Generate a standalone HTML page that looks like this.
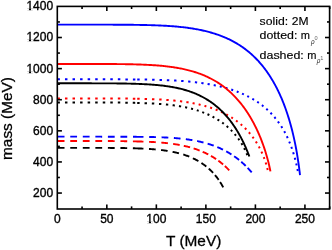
<!DOCTYPE html>
<html><head><meta charset="utf-8"><style>
html,body{margin:0;padding:0;background:#fff;width:332px;height:250px;overflow:hidden}
svg{display:block;filter:blur(0.35px)}
text{font-family:"Liberation Sans",sans-serif}
</style></head><body>
<svg width="332" height="250" viewBox="0 0 332 250">
<rect width="332" height="250" fill="#fff"/>
<g><path d="M57.70,147.87 L58.38,147.87 L59.06,147.87 L59.74,147.87 L60.42,147.87 L61.10,147.87 L61.78,147.87 L62.46,147.87 L63.14,147.87 L63.82,147.87 L64.50,147.87M70.25,147.87 L70.93,147.87 L71.61,147.87 L72.29,147.87 L72.97,147.87 L73.65,147.87 L74.33,147.87 L75.01,147.87 L75.69,147.87 L76.37,147.87 L77.05,147.87M82.80,147.87 L83.48,147.87 L84.16,147.88 L84.84,147.88 L85.52,147.88 L86.20,147.88 L86.88,147.88 L87.56,147.88 L88.24,147.88 L88.92,147.88 L89.60,147.88M95.35,147.88 L96.03,147.88 L96.71,147.88 L97.39,147.88 L98.07,147.89 L98.75,147.89 L99.43,147.89 L100.11,147.89 L100.79,147.89 L101.47,147.89 L102.15,147.89M107.89,147.91 L108.57,147.92 L109.25,147.92 L109.93,147.92 L110.61,147.93 L111.29,147.93 L111.97,147.94 L112.65,147.94 L113.33,147.95 L114.00,147.95 L114.68,147.96M120.41,148.01 L121.09,148.02 L121.77,148.03 L122.44,148.04 L123.12,148.05 L123.80,148.06 L124.48,148.07 L125.16,148.09 L125.84,148.10 L126.51,148.11 L127.19,148.12M132.87,148.26 L133.53,148.28 L134.20,148.30 L134.86,148.32 L135.52,148.34 L136.18,148.37 L136.84,148.39 L137.50,148.41 L138.16,148.44 L138.82,148.47 L139.48,148.49 L140.14,148.52 L140.80,148.55 L141.46,148.57 L142.12,148.60 L142.79,148.63 L143.45,148.65M148.99,148.95 L149.67,148.99 L150.34,149.04 L151.01,149.08 L151.68,149.13 L152.34,149.18 L153.01,149.23 L153.68,149.29 L154.35,149.34 L155.02,149.40 L155.69,149.46M161.06,150.01 L161.72,150.09 L162.38,150.17 L163.04,150.26 L163.70,150.35 L164.36,150.44 L165.02,150.53 L165.67,150.62 L166.33,150.72 L166.99,150.82 L167.64,150.93M172.59,151.82 L173.23,151.95 L173.87,152.08 L174.51,152.22 L175.15,152.36 L175.79,152.50 L176.42,152.65 L177.06,152.80 L177.69,152.96 L178.33,153.12 L178.96,153.28M183.27,154.52 L183.88,154.72 L184.49,154.91 L185.09,155.12 L185.70,155.32 L186.30,155.54 L186.90,155.75 L187.50,155.97 L188.10,156.20 L188.70,156.43 L189.29,156.66M192.90,158.24 L193.52,158.54 L194.14,158.84 L194.76,159.15 L195.37,159.46 L195.99,159.79 L196.59,160.11 L197.20,160.44 L197.80,160.78 L198.40,161.13M201.44,163.01 L202.00,163.39 L202.56,163.77 L203.12,164.16 L203.67,164.55 L204.22,164.95 L204.76,165.36 L205.30,165.77 L205.83,166.18 L206.36,166.61M208.74,168.62 L209.24,169.07 L209.74,169.53 L210.24,170.00 L210.73,170.47 L211.21,170.94 L211.69,171.42 L212.16,171.91 L212.63,172.40 L213.09,172.89M214.97,175.02 L215.41,175.54 L215.84,176.06 L216.26,176.59 L216.68,177.13 L217.09,177.67 L217.50,178.21 L217.90,178.75 L218.29,179.31 L218.68,179.86M220.14,182.07 L220.50,182.64 L220.86,183.22 L221.21,183.80 L221.55,184.38 L221.88,184.97 L222.21,185.56 L222.54,186.16 L222.86,186.76 L223.17,187.36" fill="none" stroke="#000000" stroke-width="1.9"/><path d="M57.70,141.02 L58.38,141.02 L59.06,141.02 L59.74,141.02 L60.42,141.02 L61.10,141.02 L61.78,141.02 L62.46,141.02 L63.14,141.02 L63.82,141.02 L64.50,141.02M70.25,141.02 L70.93,141.02 L71.61,141.02 L72.29,141.02 L72.97,141.02 L73.65,141.02 L74.33,141.02 L75.01,141.02 L75.69,141.02 L76.37,141.02 L77.05,141.02M82.80,141.02 L83.48,141.02 L84.16,141.02 L84.84,141.02 L85.52,141.02 L86.20,141.02 L86.88,141.02 L87.56,141.02 L88.24,141.02 L88.92,141.02 L89.60,141.02M95.35,141.03 L96.03,141.03 L96.71,141.03 L97.39,141.03 L98.07,141.03 L98.75,141.03 L99.43,141.03 L100.11,141.03 L100.79,141.03 L101.47,141.03 L102.15,141.04M107.89,141.05 L108.57,141.06 L109.25,141.06 L109.93,141.06 L110.61,141.06 L111.29,141.07 L111.97,141.07 L112.65,141.07 L113.33,141.08 L114.01,141.08 L114.69,141.09M120.42,141.13 L121.10,141.14 L121.77,141.15 L122.45,141.16 L123.13,141.16 L123.81,141.17 L124.49,141.18 L125.17,141.19 L125.85,141.20 L126.52,141.21 L127.20,141.22M132.90,141.33 L133.56,141.34 L134.22,141.36 L134.88,141.37 L135.54,141.39 L136.20,141.41 L136.86,141.43 L137.52,141.44 L138.18,141.46 L138.84,141.48 L139.50,141.50 L140.16,141.53 L140.82,141.54 L141.48,141.56 L142.14,141.58 L142.80,141.60 L143.46,141.62M149.06,141.83 L149.73,141.86 L150.40,141.89 L151.08,141.93 L151.75,141.96 L152.42,142.00 L153.10,142.03 L153.77,142.07 L154.44,142.11 L155.12,142.15 L155.79,142.20M161.28,142.60 L161.95,142.66 L162.62,142.72 L163.28,142.78 L163.95,142.84 L164.61,142.91 L165.28,142.97 L165.94,143.04 L166.61,143.11 L167.27,143.18 L167.94,143.26M173.15,143.93 L173.81,144.02 L174.46,144.12 L175.11,144.22 L175.77,144.32 L176.42,144.42 L177.07,144.53 L177.72,144.64 L178.37,144.75 L179.02,144.87 L179.68,144.99M183.77,145.81 L184.41,145.95 L185.04,146.09 L185.68,146.24 L186.31,146.39 L186.94,146.54 L187.58,146.69 L188.21,146.85 L188.84,147.02 L189.47,147.18 L190.09,147.35M193.63,148.41 L194.24,148.61 L194.84,148.81 L195.45,149.01 L196.05,149.22 L196.65,149.43 L197.25,149.64 L197.85,149.86 L198.45,150.08 L199.04,150.31 L199.64,150.54M202.67,151.79 L203.30,152.06 L203.93,152.34 L204.56,152.63 L205.19,152.92 L205.81,153.22 L206.43,153.52 L207.05,153.83 L207.67,154.14 L208.28,154.46M210.93,155.90 L211.51,156.24 L212.10,156.58 L212.68,156.93 L213.26,157.28 L213.84,157.64 L214.41,158.00 L214.98,158.37 L215.54,158.74 L216.11,159.12M218.31,160.66 L218.85,161.06 L219.40,161.47 L219.94,161.88 L220.47,162.30 L221.00,162.72 L221.53,163.14 L222.06,163.57 L222.58,164.00 L223.09,164.44M224.88,166.02 L225.38,166.48 L225.87,166.94 L226.36,167.41 L226.85,167.88 L227.33,168.35 L227.81,168.83 L228.29,169.32 L228.76,169.80 L229.22,170.30" fill="none" stroke="#ff0000" stroke-width="1.9"/><path d="M57.70,136.67 L58.38,136.67 L59.06,136.67 L59.74,136.67 L60.42,136.67 L61.10,136.67 L61.78,136.67 L62.46,136.67 L63.14,136.67 L63.82,136.67 L64.50,136.67M70.25,136.67 L70.93,136.67 L71.61,136.67 L72.29,136.67 L72.97,136.67 L73.65,136.67 L74.33,136.67 L75.01,136.67 L75.69,136.67 L76.37,136.67 L77.05,136.67M82.80,136.67 L83.48,136.67 L84.16,136.67 L84.84,136.67 L85.52,136.67 L86.20,136.67 L86.88,136.67 L87.56,136.67 L88.24,136.67 L88.92,136.67 L89.60,136.67M95.35,136.67 L96.03,136.67 L96.71,136.67 L97.39,136.67 L98.07,136.67 L98.75,136.67 L99.43,136.67 L100.11,136.67 L100.79,136.67 L101.47,136.68 L102.15,136.68M107.90,136.68 L108.58,136.68 L109.26,136.68 L109.94,136.68 L110.62,136.68 L111.30,136.69 L111.98,136.69 L112.66,136.69 L113.34,136.69 L114.02,136.69 L114.70,136.69M120.44,136.71 L121.12,136.71 L121.80,136.71 L122.48,136.72 L123.16,136.72 L123.84,136.72 L124.52,136.73 L125.20,136.73 L125.88,136.73 L126.56,136.74 L127.23,136.74M132.97,136.78 L133.62,136.79 L134.28,136.80 L134.94,136.80 L135.59,136.81 L136.25,136.82 L136.91,136.83 L137.57,136.83 L138.22,136.84 L138.88,136.85 L139.54,136.86 L140.20,136.87 L140.85,136.87 L141.51,136.88 L142.17,136.88 L142.83,136.89 L143.48,136.90M149.17,136.98 L149.85,136.99 L150.53,137.00 L151.20,137.01 L151.88,137.03 L152.56,137.04 L153.24,137.06 L153.91,137.07 L154.59,137.09 L155.27,137.11 L155.95,137.13M161.60,137.32 L162.27,137.34 L162.95,137.37 L163.62,137.40 L164.30,137.43 L164.97,137.46 L165.64,137.50 L166.32,137.53 L166.99,137.56 L167.67,137.60 L168.34,137.64M173.87,138.00 L174.53,138.05 L175.20,138.10 L175.87,138.16 L176.54,138.21 L177.21,138.27 L177.87,138.33 L178.54,138.39 L179.21,138.45 L179.87,138.52 L180.54,138.58M185.83,139.18 L186.48,139.27 L187.14,139.36 L187.80,139.45 L188.46,139.54 L189.11,139.63 L189.77,139.73 L190.42,139.83 L191.08,139.94 L191.73,140.05 L192.39,140.16M197.13,141.05 L197.77,141.19 L198.41,141.32 L199.04,141.46 L199.68,141.60 L200.32,141.75 L200.95,141.90 L201.59,142.05 L202.22,142.21 L202.85,142.36 L203.49,142.53M207.63,143.68 L208.25,143.87 L208.86,144.05 L209.47,144.25 L210.08,144.44 L210.69,144.64 L211.30,144.85 L211.91,145.05 L212.51,145.26 L213.11,145.48 L213.72,145.70M217.30,147.09 L217.94,147.36 L218.58,147.63 L219.22,147.91 L219.86,148.19 L220.49,148.48 L221.13,148.77 L221.76,149.06 L222.38,149.37 L223.01,149.67M226.18,151.32 L226.78,151.65 L227.37,151.98 L227.96,152.32 L228.55,152.66 L229.13,153.01 L229.72,153.36 L230.30,153.72 L230.87,154.08 L231.45,154.44M234.17,156.27 L234.73,156.66 L235.28,157.05 L235.83,157.45 L236.37,157.86 L236.91,158.26 L237.45,158.67 L237.99,159.09 L238.52,159.51 L239.05,159.94M241.26,161.78 L241.77,162.23 L242.27,162.68 L242.78,163.13 L243.28,163.59 L243.77,164.05 L244.27,164.52 L244.76,164.98 L245.24,165.46 L245.73,165.93M247.64,167.89 L248.11,168.38 L248.57,168.88 L249.02,169.38 L249.48,169.89 L249.93,170.39 L250.37,170.90 L250.81,171.42 L251.25,171.94 L251.69,172.46" fill="none" stroke="#0000ff" stroke-width="1.9"/><path d="M57.40,102.49 L58.02,102.49 L58.65,102.49 L59.27,102.49 L59.90,102.49M64.96,102.49 L65.58,102.49 L66.21,102.49 L66.83,102.49 L67.46,102.49M72.52,102.49 L73.14,102.49 L73.77,102.49 L74.39,102.49 L75.02,102.49M80.08,102.49 L80.70,102.49 L81.33,102.49 L81.95,102.49 L82.58,102.49M87.64,102.49 L88.26,102.49 L88.89,102.49 L89.51,102.49 L90.14,102.49M95.19,102.50 L95.82,102.50 L96.44,102.50 L97.07,102.50 L97.69,102.50M102.75,102.51 L103.37,102.51 L103.99,102.52 L104.62,102.52 L105.24,102.52M110.28,102.54 L110.91,102.54 L111.53,102.55 L112.15,102.55 L112.78,102.55M117.81,102.59 L118.43,102.60 L119.05,102.60 L119.67,102.61 L120.29,102.62M125.30,102.68 L125.92,102.69 L126.53,102.70 L127.15,102.71 L127.77,102.72M132.75,102.82 L133.36,102.83 L133.98,102.84 L134.59,102.86 L135.21,102.88M137.20,102.93 L137.81,102.95 L138.42,102.97 L139.03,102.98 L139.64,103.00M144.54,103.15 L145.15,103.17 L145.76,103.19 L146.37,103.21 L146.98,103.23M151.85,103.45 L152.45,103.48 L153.05,103.51 L153.65,103.54 L154.25,103.58M158.99,103.88 L159.58,103.92 L160.17,103.96 L160.76,104.01 L161.35,104.05M165.93,104.45 L166.50,104.51 L167.08,104.57 L167.65,104.63 L168.23,104.69M172.60,105.19 L173.16,105.27 L173.72,105.34 L174.28,105.41 L174.84,105.49M178.96,106.11 L179.50,106.20 L180.05,106.29 L180.59,106.38 L181.13,106.47M185.10,107.23 L185.62,107.33 L186.14,107.44 L186.66,107.55 L187.17,107.66M191.07,108.58 L191.72,108.75 L192.37,108.93 L193.02,109.11M196.78,110.21 L197.41,110.41 L198.05,110.62 L198.68,110.82M202.25,112.09 L202.87,112.32 L203.50,112.56 L204.12,112.81M207.49,114.22 L208.10,114.50 L208.70,114.77 L209.31,115.05M212.58,116.68 L213.17,116.99 L213.76,117.31 L214.34,117.63M217.50,119.48 L218.06,119.83 L218.63,120.19 L219.19,120.55M222.20,122.62 L222.74,123.02 L223.27,123.41 L223.80,123.82M226.65,126.11 L227.16,126.54 L227.66,126.98 L228.16,127.42M230.83,129.93 L231.30,130.40 L231.76,130.88 L232.23,131.36M234.69,134.06 L235.12,134.57 L235.55,135.08 L235.97,135.60M238.21,138.49 L238.60,139.03 L238.99,139.57 L239.37,140.12M241.37,143.18 L241.72,143.75 L242.06,144.32 L242.40,144.89M244.15,148.10 L244.45,148.70 L244.75,149.30 L245.04,149.90M246.52,153.24 L246.78,153.85 L247.02,154.48 L247.26,155.10" fill="none" stroke="#000000" stroke-width="2.0"/><path d="M57.40,98.41 L58.02,98.41 L58.65,98.41 L59.27,98.41 L59.90,98.41M64.96,98.41 L65.58,98.41 L66.21,98.41 L66.83,98.41 L67.46,98.41M72.52,98.41 L73.14,98.41 L73.77,98.41 L74.39,98.41 L75.02,98.41M80.08,98.41 L80.70,98.41 L81.33,98.41 L81.95,98.41 L82.58,98.41M87.64,98.42 L88.26,98.42 L88.89,98.42 L89.51,98.42 L90.14,98.42M95.20,98.42 L95.82,98.42 L96.45,98.42 L97.07,98.42 L97.69,98.42M102.75,98.43 L103.37,98.43 L104.00,98.43 L104.62,98.43 L105.25,98.44M110.29,98.45 L110.92,98.45 L111.54,98.46 L112.16,98.46 L112.79,98.46M117.83,98.49 L118.45,98.49 L119.07,98.50 L119.69,98.50 L120.31,98.51M125.34,98.55 L125.96,98.56 L126.58,98.56 L127.20,98.57 L127.82,98.58M132.82,98.65 L133.44,98.66 L134.05,98.67 L134.67,98.68 L135.29,98.69M137.20,98.73 L137.82,98.74 L138.43,98.76 L139.05,98.77 L139.66,98.78M144.61,98.90 L145.22,98.91 L145.83,98.93 L146.44,98.95 L147.05,98.97M151.96,99.14 L152.57,99.16 L153.18,99.18 L153.78,99.21 L154.39,99.23M159.22,99.47 L159.82,99.50 L160.42,99.53 L161.02,99.57 L161.62,99.60M166.33,99.91 L166.92,99.95 L167.51,100.00 L168.10,100.04 L168.69,100.09M173.26,100.48 L173.83,100.54 L174.41,100.59 L174.99,100.65 L175.57,100.71M179.95,101.20 L180.52,101.27 L181.08,101.34 L181.64,101.41 L182.21,101.48M186.38,102.07 L186.93,102.15 L187.47,102.24 L188.02,102.32 L188.57,102.41M192.56,103.12 L193.09,103.22 L193.61,103.32 L194.14,103.42 L194.66,103.53M198.60,104.38 L199.27,104.53 L199.94,104.69 L200.61,104.85M204.46,105.86 L205.11,106.03 L205.75,106.22 L206.39,106.40M210.14,107.57 L210.77,107.78 L211.40,107.99 L212.03,108.21M215.69,109.55 L216.31,109.80 L216.93,110.05 L217.55,110.30M221.03,111.81 L221.64,112.09 L222.24,112.38 L222.84,112.66M226.23,114.39 L226.82,114.71 L227.40,115.03 L227.98,115.35M231.25,117.30 L231.81,117.66 L232.37,118.02 L232.93,118.38M236.05,120.55 L236.59,120.95 L237.13,121.35 L237.66,121.75M240.61,124.14 L241.12,124.58 L241.62,125.01 L242.12,125.46M244.89,128.06 L245.37,128.53 L245.84,129.00 L246.30,129.48M248.87,132.28 L249.31,132.78 L249.74,133.29 L250.17,133.80M252.53,136.78 L252.93,137.32 L253.32,137.86 L253.71,138.40M255.85,141.54 L256.21,142.10 L256.57,142.67 L256.92,143.23M258.83,146.52 L259.15,147.11 L259.46,147.69 L259.78,148.28M261.46,151.69 L261.74,152.30 L262.02,152.90 L262.29,153.51M263.74,157.03 L263.98,157.65 L264.22,158.27 L264.45,158.90M265.67,162.50 L265.87,163.13 L266.07,163.77 L266.26,164.41M267.25,168.08 L267.41,168.73 L267.56,169.38 L267.71,170.03" fill="none" stroke="#ff0000" stroke-width="2.0"/><path d="M57.40,79.28 L58.02,79.28 L58.65,79.28 L59.27,79.28 L59.90,79.28M64.96,79.28 L65.58,79.28 L66.21,79.28 L66.83,79.28 L67.46,79.28M72.52,79.28 L73.14,79.28 L73.77,79.28 L74.39,79.28 L75.02,79.28M80.08,79.28 L80.70,79.28 L81.33,79.28 L81.95,79.28 L82.58,79.28M87.64,79.28 L88.26,79.28 L88.89,79.28 L89.51,79.28 L90.14,79.28M95.20,79.29 L95.82,79.29 L96.45,79.29 L97.07,79.29 L97.70,79.29M102.75,79.29 L103.38,79.29 L104.00,79.30 L104.62,79.30 L105.25,79.30M110.30,79.31 L110.92,79.31 L111.55,79.31 L112.17,79.31 L112.80,79.32M117.84,79.33 L118.46,79.34 L119.09,79.34 L119.71,79.34 L120.33,79.35M125.37,79.38 L125.99,79.38 L126.61,79.39 L127.23,79.39 L127.86,79.40M132.88,79.44 L133.50,79.45 L134.12,79.46 L134.74,79.46 L135.36,79.47M137.20,79.49 L137.82,79.50 L138.44,79.51 L139.06,79.52 L139.67,79.53M144.66,79.59 L145.28,79.60 L145.90,79.60 L146.52,79.61 L147.14,79.62M152.12,79.71 L152.73,79.73 L153.35,79.74 L153.96,79.75 L154.58,79.77M159.52,79.90 L160.13,79.92 L160.74,79.94 L161.35,79.96 L161.96,79.98M166.85,80.16 L167.46,80.18 L168.06,80.21 L168.67,80.24 L169.27,80.26M174.09,80.50 L174.69,80.53 L175.29,80.57 L175.88,80.60 L176.48,80.64M181.19,80.94 L181.78,80.98 L182.37,81.03 L182.96,81.07 L183.55,81.11M188.13,81.49 L188.71,81.54 L189.29,81.60 L189.87,81.65 L190.45,81.71M194.88,82.19 L195.45,82.25 L196.01,82.32 L196.58,82.39 L197.15,82.46M201.36,83.01 L201.92,83.09 L202.47,83.17 L203.02,83.25 L203.57,83.33M207.59,83.97 L208.13,84.06 L208.67,84.15 L209.21,84.24 L209.75,84.34M213.72,85.09 L214.24,85.19 L214.76,85.30 L215.28,85.41 L215.80,85.51M219.71,86.39 L220.38,86.54 L221.05,86.71 L221.72,86.87M225.57,87.88 L226.21,88.06 L226.85,88.24 L227.49,88.42M231.25,89.57 L231.88,89.78 L232.51,89.99 L233.15,90.20M236.73,91.48 L237.36,91.71 L237.98,91.95 L238.60,92.19M242.02,93.60 L242.63,93.87 L243.24,94.14 L243.85,94.41M247.24,96.03 L247.83,96.33 L248.43,96.63 L249.02,96.94M252.31,98.75 L252.88,99.09 L253.46,99.43 L254.03,99.77M257.20,101.78 L257.75,102.15 L258.30,102.53 L258.85,102.91M261.88,105.13 L262.40,105.54 L262.93,105.95 L263.45,106.37M266.32,108.79 L266.81,109.23 L267.31,109.68 L267.80,110.13M270.49,112.75 L270.95,113.23 L271.41,113.71 L271.87,114.20M274.37,117.00 L274.80,117.51 L275.23,118.02 L275.65,118.54M277.95,121.50 L278.34,122.04 L278.73,122.58 L279.12,123.13M281.22,126.24 L281.57,126.80 L281.93,127.37 L282.28,127.93M284.18,131.17 L284.50,131.76 L284.82,132.34 L285.13,132.93M286.83,136.28 L287.12,136.88 L287.41,137.48 L287.69,138.08M289.21,141.52 L289.46,142.13 L289.72,142.75 L289.97,143.37M291.31,146.88 L291.53,147.50 L291.76,148.13 L291.98,148.76M293.16,152.32 L293.36,152.96 L293.55,153.60 L293.75,154.24M294.78,157.85 L294.95,158.49 L295.12,159.13 L295.29,159.78M296.19,163.42 L296.34,164.07 L296.49,164.72 L296.63,165.37M297.41,169.05 L297.54,169.70 L297.67,170.36 L297.79,171.01" fill="none" stroke="#0000ff" stroke-width="2.0"/><path d="M57.30,83.32 L58.32,83.32 L59.34,83.32 L60.36,83.32 L61.37,83.32 L62.38,83.32 L63.39,83.32 L64.40,83.32 L65.40,83.32 L66.40,83.32 L67.46,83.32 L68.53,83.32 L69.59,83.32 L70.64,83.32 L71.69,83.32 L72.74,83.32 L73.79,83.32 L74.84,83.32 L75.88,83.32 L76.92,83.32 L77.95,83.32 L78.98,83.32 L80.01,83.32 L81.04,83.32 L82.07,83.32 L83.09,83.32 L84.10,83.32 L85.12,83.32 L86.13,83.32 L87.14,83.32 L88.15,83.32 L89.15,83.32 L90.15,83.32 L91.21,83.32 L92.27,83.33 L93.32,83.33 L94.37,83.33 L95.42,83.33 L96.46,83.33 L97.50,83.33 L98.54,83.33 L99.58,83.34 L100.61,83.34 L101.63,83.34 L102.66,83.35 L103.68,83.35 L104.70,83.35 L105.71,83.36 L106.72,83.36 L107.73,83.36 L108.73,83.37 L109.73,83.38 L110.79,83.38 L111.84,83.39 L112.89,83.40 L113.94,83.40 L114.98,83.41 L116.02,83.42 L117.05,83.43 L118.08,83.44 L119.11,83.45 L120.13,83.47 L121.15,83.48 L122.17,83.50 L123.18,83.51 L124.19,83.53 L125.19,83.54 L126.19,83.56 L127.25,83.58 L128.29,83.61 L129.34,83.63 L130.38,83.65 L131.41,83.68 L132.45,83.71 L133.48,83.74 L134.50,83.77 L135.52,83.80 L136.53,83.84 L137.55,83.87 L138.55,83.91 L139.56,83.95 L140.56,83.99 L141.60,84.03 L142.65,84.08 L143.69,84.13 L144.72,84.18 L145.75,84.23 L146.77,84.29 L147.79,84.34 L148.81,84.41 L149.82,84.47 L150.83,84.54 L151.83,84.61 L152.83,84.68 L153.87,84.76 L154.91,84.85 L155.94,84.94 L156.97,85.03 L157.99,85.13 L159.01,85.23 L160.02,85.33 L161.03,85.44 L162.03,85.55 L163.03,85.67 L164.07,85.80 L165.10,85.94 L166.13,86.07 L167.15,86.22 L168.17,86.37 L169.18,86.53 L170.19,86.69 L171.19,86.85 L172.18,87.03 L173.17,87.21 L174.16,87.39 L175.18,87.59 L176.20,87.80 L177.21,88.01 L178.22,88.23 L179.22,88.46 L180.21,88.70 L181.20,88.94 L182.18,89.19 L183.15,89.45 L184.12,89.71 L185.09,89.99 L186.08,90.28 L187.08,90.58 L188.06,90.89 L189.04,91.21 L190.01,91.54 L190.98,91.88 L191.94,92.24 L192.89,92.60 L193.84,92.97 L194.78,93.34 L195.71,93.73 L196.64,94.13 L197.56,94.54 L198.47,94.96 L199.38,95.38 L200.28,95.82 L201.21,96.29 L202.14,96.76 L203.05,97.25 L203.96,97.75 L204.86,98.26 L205.76,98.78 L206.65,99.31 L207.53,99.85 L208.40,100.41 L209.27,100.97 L210.13,101.55 L210.98,102.13 L211.83,102.73 L212.67,103.34 L213.50,103.96 L214.33,104.59 L215.14,105.24 L215.95,105.89 L216.73,106.53 L217.49,107.18 L218.25,107.84 L219.00,108.51 L219.74,109.19 L220.48,109.88 L221.22,110.58 L221.94,111.29 L222.66,112.01 L223.37,112.74 L224.08,113.48 L224.78,114.23 L225.47,114.99 L226.16,115.76 L226.84,116.54 L227.51,117.33 L228.18,118.13 L228.81,118.91 L229.43,119.69 L230.06,120.49 L230.67,121.29 L231.28,122.10 L231.88,122.92 L232.48,123.75 L233.07,124.58 L233.65,125.42 L234.23,126.28 L234.80,127.14 L235.37,128.00 L235.93,128.88 L236.49,129.76 L237.01,130.62 L237.53,131.47 L238.04,132.34 L238.55,133.21 L239.05,134.09 L239.55,134.98 L240.04,135.87 L240.53,136.77 L241.01,137.67 L241.49,138.58 L241.96,139.50 L242.42,140.42 L242.88,141.35 L243.33,142.28 L243.78,143.22 L244.22,144.16 L244.66,145.11 L245.09,146.07 L245.50,146.98 L245.90,147.90 L246.29,148.83 L246.69,149.75 L247.07,150.69 L247.45,151.62 L247.83,152.56 L248.20,153.50 L248.57,154.45 L248.93,155.40 L249.29,156.35 L249.32,156.44" fill="none" stroke="#000000" stroke-width="1.9"/><path d="M57.30,63.98 L58.30,63.98 L59.31,63.98 L60.38,63.98 L61.44,63.98 L62.51,63.98 L63.57,63.98 L64.63,63.98 L65.69,63.98 L66.74,63.98 L67.79,63.98 L68.84,63.98 L69.89,63.98 L70.93,63.98 L71.97,63.98 L73.01,63.98 L74.04,63.98 L75.08,63.98 L76.11,63.98 L77.13,63.98 L78.16,63.98 L79.18,63.98 L80.20,63.98 L81.22,63.98 L82.23,63.98 L83.24,63.98 L84.25,63.98 L85.25,63.98 L86.26,63.98 L87.26,63.98 L88.32,63.98 L89.38,63.98 L90.44,63.98 L91.50,63.98 L92.55,63.98 L93.60,63.98 L94.64,63.99 L95.68,63.99 L96.72,63.99 L97.76,63.99 L98.79,63.99 L99.82,63.99 L100.85,64.00 L101.88,64.00 L102.90,64.00 L103.91,64.00 L104.93,64.01 L105.94,64.01 L106.95,64.02 L107.96,64.02 L108.96,64.02 L110.02,64.03 L111.08,64.04 L112.14,64.04 L113.19,64.05 L114.24,64.06 L115.28,64.06 L116.32,64.07 L117.36,64.08 L118.39,64.09 L119.42,64.10 L120.45,64.11 L121.48,64.13 L122.50,64.14 L123.51,64.15 L124.53,64.17 L125.54,64.18 L126.54,64.20 L127.55,64.22 L128.55,64.23 L129.60,64.26 L130.65,64.28 L131.70,64.30 L132.74,64.32 L133.78,64.35 L134.82,64.38 L135.85,64.41 L136.88,64.44 L137.90,64.47 L138.92,64.50 L139.94,64.54 L140.95,64.57 L141.96,64.61 L142.96,64.65 L143.96,64.69 L145.02,64.73 L146.06,64.78 L147.11,64.83 L148.15,64.88 L149.18,64.94 L150.21,64.99 L151.24,65.05 L152.26,65.11 L153.28,65.18 L154.29,65.25 L155.30,65.32 L156.30,65.39 L157.30,65.47 L158.35,65.55 L159.39,65.64 L160.43,65.73 L161.47,65.82 L162.50,65.92 L163.52,66.02 L164.54,66.13 L165.55,66.24 L166.56,66.35 L167.57,66.47 L168.57,66.59 L169.56,66.71 L170.60,66.85 L171.64,66.99 L172.67,67.14 L173.69,67.29 L174.71,67.45 L175.73,67.61 L176.73,67.78 L177.74,67.95 L178.74,68.13 L179.73,68.31 L180.72,68.50 L181.70,68.69 L182.72,68.90 L183.74,69.12 L184.75,69.34 L185.76,69.57 L186.76,69.81 L187.75,70.05 L188.74,70.30 L189.72,70.56 L190.70,70.82 L191.67,71.09 L192.63,71.37 L193.59,71.66 L194.59,71.97 L195.58,72.28 L196.57,72.61 L197.54,72.94 L198.51,73.28 L199.48,73.63 L200.44,73.98 L201.39,74.35 L202.34,74.72 L203.28,75.10 L204.21,75.49 L205.14,75.89 L206.06,76.29 L206.97,76.71 L207.88,77.13 L208.78,77.57 L209.72,78.03 L210.65,78.50 L211.57,78.98 L212.48,79.47 L213.39,79.97 L214.29,80.48 L215.18,80.99 L216.07,81.52 L216.95,82.06 L217.82,82.61 L218.68,83.17 L219.54,83.73 L220.39,84.31 L221.24,84.90 L222.08,85.49 L222.91,86.10 L223.73,86.71 L224.55,87.34 L225.36,87.97 L226.16,88.61 L226.96,89.27 L227.75,89.93 L228.53,90.60 L229.31,91.28 L230.08,91.97 L230.84,92.67 L231.59,93.38 L232.34,94.10 L233.08,94.82 L233.82,95.56 L234.55,96.31 L235.27,97.06 L235.95,97.79 L236.63,98.53 L237.30,99.27 L237.97,100.03 L238.63,100.79 L239.28,101.56 L239.92,102.33 L240.56,103.12 L241.20,103.91 L241.82,104.71 L242.45,105.51 L243.06,106.32 L243.67,107.14 L244.27,107.97 L244.87,108.80 L245.46,109.64 L246.04,110.49 L246.62,111.34 L247.19,112.20 L247.75,113.06 L248.31,113.93 L248.86,114.81 L249.40,115.69 L249.94,116.57 L250.48,117.47 L251.00,118.36 L251.52,119.27 L252.03,120.17 L252.54,121.09 L253.04,122.00 L253.54,122.92 L254.00,123.81 L254.46,124.70 L254.92,125.59 L255.37,126.48 L255.81,127.38 L256.25,128.28 L256.68,129.19 L257.11,130.10 L257.53,131.01 L257.95,131.92 L258.35,132.83 L258.76,133.75 L259.16,134.67 L259.55,135.59 L259.93,136.51 L260.33,137.48 L260.72,138.45 L261.11,139.42 L261.48,140.39 L261.86,141.36 L262.22,142.33 L262.58,143.30 L262.93,144.27 L263.28,145.24 L263.62,146.21 L263.95,147.18 L264.28,148.15 L264.60,149.12 L264.92,150.09 L265.23,151.05 L265.53,152.02 L265.83,152.98 L266.11,153.94 L266.41,154.93 L266.70,155.93 L266.98,156.92 L267.26,157.91 L267.52,158.89 L267.78,159.87 L268.04,160.85 L268.29,161.82 L268.54,162.82 L268.78,163.82 L269.01,164.81 L269.24,165.79 L269.46,166.77 L269.68,167.78 L269.90,168.77 L270.10,169.76 L270.31,170.78 L270.43,171.41" fill="none" stroke="#ff0000" stroke-width="1.9"/><path d="M57.30,24.64 L58.36,24.64 L59.43,24.64 L60.49,24.64 L61.54,24.64 L62.60,24.64 L63.65,24.64 L64.70,24.64 L65.75,24.64 L66.79,24.64 L67.84,24.64 L68.88,24.64 L69.92,24.64 L70.95,24.64 L71.99,24.64 L73.02,24.64 L74.05,24.64 L75.07,24.64 L76.10,24.64 L77.12,24.64 L78.14,24.64 L79.16,24.64 L80.18,24.64 L81.19,24.64 L82.20,24.64 L83.21,24.64 L84.21,24.64 L85.22,24.64 L86.22,24.64 L87.30,24.64 L88.37,24.64 L89.44,24.64 L90.51,24.64 L91.57,24.64 L92.64,24.64 L93.70,24.64 L94.76,24.64 L95.81,24.64 L96.86,24.64 L97.91,24.64 L98.96,24.65 L100.00,24.65 L101.04,24.65 L102.08,24.65 L103.12,24.65 L104.15,24.65 L105.18,24.65 L106.21,24.66 L107.24,24.66 L108.26,24.66 L109.28,24.66 L110.30,24.67 L111.31,24.67 L112.32,24.67 L113.33,24.68 L114.34,24.68 L115.34,24.68 L116.34,24.69 L117.41,24.69 L118.48,24.70 L119.54,24.70 L120.60,24.71 L121.66,24.72 L122.72,24.72 L123.77,24.73 L124.82,24.74 L125.86,24.75 L126.90,24.76 L127.94,24.77 L128.98,24.78 L130.01,24.79 L131.04,24.80 L132.07,24.81 L133.09,24.82 L134.11,24.84 L135.13,24.85 L136.14,24.87 L137.15,24.88 L138.16,24.90 L139.17,24.92 L140.17,24.94 L141.24,24.95 L142.30,24.97 L143.36,24.99 L144.41,25.01 L145.46,25.04 L146.51,25.06 L147.56,25.08 L148.60,25.11 L149.64,25.14 L150.67,25.17 L151.70,25.20 L152.73,25.23 L153.75,25.26 L154.77,25.30 L155.79,25.34 L156.80,25.37 L157.81,25.41 L158.82,25.46 L159.82,25.50 L160.82,25.55 L161.88,25.60 L162.93,25.65 L163.98,25.71 L165.03,25.76 L166.07,25.82 L167.11,25.89 L168.14,25.95 L169.17,26.02 L170.20,26.09 L171.22,26.16 L172.24,26.24 L173.25,26.31 L174.26,26.40 L175.27,26.48 L176.27,26.57 L177.27,26.66 L178.32,26.75 L179.37,26.86 L180.41,26.96 L181.45,27.07 L182.49,27.18 L183.52,27.30 L184.55,27.42 L185.57,27.55 L186.59,27.68 L187.60,27.81 L188.61,27.94 L189.61,28.09 L190.61,28.23 L191.61,28.38 L192.60,28.54 L193.64,28.71 L194.68,28.89 L195.71,29.07 L196.73,29.25 L197.76,29.44 L198.77,29.64 L199.78,29.84 L200.79,30.05 L201.79,30.26 L202.79,30.48 L203.78,30.70 L204.77,30.93 L205.75,31.17 L206.73,31.41 L207.70,31.66 L208.67,31.91 L209.68,32.19 L210.69,32.47 L211.69,32.75 L212.69,33.05 L213.68,33.35 L214.66,33.66 L215.64,33.97 L216.62,34.30 L217.59,34.63 L218.55,34.97 L219.51,35.31 L220.46,35.67 L221.41,36.03 L222.35,36.40 L223.29,36.77 L224.22,37.16 L225.15,37.55 L226.07,37.95 L226.98,38.36 L227.89,38.77 L228.84,39.22 L229.78,39.68 L230.72,40.14 L231.65,40.61 L232.57,41.10 L233.49,41.59 L234.40,42.09 L235.31,42.60 L236.21,43.12 L237.10,43.65 L237.99,44.20 L238.88,44.74 L239.75,45.30 L240.62,45.87 L241.49,46.45 L242.35,47.04 L243.20,47.64 L244.04,48.25 L244.88,48.87 L245.72,49.50 L246.55,50.14 L247.37,50.79 L248.18,51.45 L248.96,52.09 L249.72,52.73 L250.48,53.39 L251.24,54.06 L251.99,54.73 L252.73,55.41 L253.47,56.11 L254.21,56.81 L254.93,57.53 L255.66,58.25 L256.37,58.98 L257.08,59.72 L257.79,60.47 L258.49,61.23 L259.19,62.00 L259.88,62.78 L260.56,63.57 L261.24,64.37 L261.91,65.18 L262.55,65.96 L263.18,66.74 L263.80,67.54 L264.42,68.34 L265.04,69.15 L265.65,69.97 L266.25,70.80 L266.85,71.64 L267.45,72.49 L268.04,73.35 L268.62,74.21 L269.20,75.08 L269.78,75.96 L270.32,76.81 L270.86,77.66 L271.39,78.52 L271.91,79.39 L272.44,80.26 L272.96,81.14 L273.47,82.03 L273.98,82.93 L274.49,83.84 L274.99,84.75 L275.48,85.67 L275.97,86.60 L276.46,87.54 L276.92,88.43 L277.37,89.33 L277.82,90.24 L278.26,91.15 L278.70,92.07 L279.14,93.00 L279.57,93.93 L280.00,94.87 L280.43,95.82 L280.85,96.77 L281.27,97.73 L281.68,98.70 L282.09,99.67 L282.49,100.65 L282.87,101.58 L283.24,102.52 L283.61,103.46 L283.98,104.41 L284.35,105.36 L284.71,106.32 L285.06,107.29 L285.42,108.26 L285.76,109.24 L286.11,110.22 L286.45,111.21 L286.79,112.20 L287.13,113.20 L287.46,114.21 L287.79,115.22 L288.09,116.18 L288.40,117.14 L288.70,118.10 L288.99,119.07 L289.28,120.04 L289.57,121.02 L289.86,122.01 L290.14,123.00 L290.42,123.99 L290.70,124.99 L290.98,126.00 L291.25,127.01 L291.51,128.02 L291.78,129.04 L292.04,130.07 L292.30,131.10 L292.56,132.13 L292.81,133.17 L293.04,134.15 L293.27,135.13 L293.50,136.11 L293.73,137.10 L293.95,138.09 L294.17,139.09 L294.38,140.09 L294.60,141.10 L294.81,142.11 L295.02,143.12 L295.23,144.14 L295.43,145.16 L295.63,146.19 L295.83,147.22 L296.02,148.25 L296.22,149.29 L296.41,150.34 L296.59,151.39 L296.78,152.44 L296.96,153.49 L297.14,154.56 L297.31,155.55 L297.47,156.54 L297.63,157.53 L297.79,158.53 L297.94,159.54 L298.09,160.55 L298.24,161.56 L298.39,162.57 L298.54,163.59 L298.68,164.61 L298.82,165.64 L298.96,166.67 L299.10,167.71 L299.23,168.74 L299.36,169.79 L299.49,170.83 L299.62,171.88 L299.75,172.93 L299.87,173.99 L299.99,175.05 L300.01,175.22" fill="none" stroke="#0000ff" stroke-width="1.9"/></g>
<g stroke="#000" stroke-width="1.6" fill="none">
<rect x="57.3" y="6.4" width="272.30" height="202.60"/>
<line x1="82.06" y1="209.0" x2="82.06" y2="206.4"/><line x1="82.06" y1="6.4" x2="82.06" y2="9.0"/><line x1="106.83" y1="209.0" x2="106.83" y2="204.4"/><line x1="106.83" y1="6.4" x2="106.83" y2="11.0"/><line x1="131.59" y1="209.0" x2="131.59" y2="206.4"/><line x1="131.59" y1="6.4" x2="131.59" y2="9.0"/><line x1="156.35" y1="209.0" x2="156.35" y2="204.4"/><line x1="156.35" y1="6.4" x2="156.35" y2="11.0"/><line x1="181.11" y1="209.0" x2="181.11" y2="206.4"/><line x1="181.11" y1="6.4" x2="181.11" y2="9.0"/><line x1="205.88" y1="209.0" x2="205.88" y2="204.4"/><line x1="205.88" y1="6.4" x2="205.88" y2="11.0"/><line x1="230.64" y1="209.0" x2="230.64" y2="206.4"/><line x1="230.64" y1="6.4" x2="230.64" y2="9.0"/><line x1="255.40" y1="209.0" x2="255.40" y2="204.4"/><line x1="255.40" y1="6.4" x2="255.40" y2="11.0"/><line x1="280.16" y1="209.0" x2="280.16" y2="206.4"/><line x1="280.16" y1="6.4" x2="280.16" y2="9.0"/><line x1="304.93" y1="209.0" x2="304.93" y2="204.4"/><line x1="304.93" y1="6.4" x2="304.93" y2="11.0"/><line x1="329.69" y1="209.0" x2="329.69" y2="206.4"/><line x1="329.69" y1="6.4" x2="329.69" y2="9.0"/><line x1="57.3" y1="193.05" x2="61.9" y2="193.05"/><line x1="329.6" y1="193.05" x2="325.0" y2="193.05"/><line x1="57.3" y1="177.49" x2="59.9" y2="177.49"/><line x1="329.6" y1="177.49" x2="327.0" y2="177.49"/><line x1="57.3" y1="161.94" x2="61.9" y2="161.94"/><line x1="329.6" y1="161.94" x2="325.0" y2="161.94"/><line x1="57.3" y1="146.39" x2="59.9" y2="146.39"/><line x1="329.6" y1="146.39" x2="327.0" y2="146.39"/><line x1="57.3" y1="130.83" x2="61.9" y2="130.83"/><line x1="329.6" y1="130.83" x2="325.0" y2="130.83"/><line x1="57.3" y1="115.28" x2="59.9" y2="115.28"/><line x1="329.6" y1="115.28" x2="327.0" y2="115.28"/><line x1="57.3" y1="99.72" x2="61.9" y2="99.72"/><line x1="329.6" y1="99.72" x2="325.0" y2="99.72"/><line x1="57.3" y1="84.17" x2="59.9" y2="84.17"/><line x1="329.6" y1="84.17" x2="327.0" y2="84.17"/><line x1="57.3" y1="68.62" x2="61.9" y2="68.62"/><line x1="329.6" y1="68.62" x2="325.0" y2="68.62"/><line x1="57.3" y1="53.06" x2="59.9" y2="53.06"/><line x1="329.6" y1="53.06" x2="327.0" y2="53.06"/><line x1="57.3" y1="37.51" x2="61.9" y2="37.51"/><line x1="329.6" y1="37.51" x2="325.0" y2="37.51"/><line x1="57.3" y1="21.95" x2="59.9" y2="21.95"/><line x1="329.6" y1="21.95" x2="327.0" y2="21.95"/>
</g>
<g font-family="Liberation Sans" font-size="12" fill="#000" stroke="#000" stroke-width="0.35">
<text x="53.1" y="197" text-anchor="end">200</text><text x="53.1" y="166" text-anchor="end">400</text><text x="53.1" y="135" text-anchor="end">600</text><text x="53.1" y="104" text-anchor="end">800</text><text x="53.1" y="73" text-anchor="end">1000</text><text x="53.1" y="41" text-anchor="end">1200</text><text x="53.1" y="10" text-anchor="end">1400</text><text x="57.30" y="222.9" text-anchor="middle">0</text><text x="106.83" y="222.9" text-anchor="middle">50</text><text x="156.35" y="222.9" text-anchor="middle">100</text><text x="205.88" y="222.9" text-anchor="middle">150</text><text x="255.40" y="222.9" text-anchor="middle">200</text><text x="304.93" y="222.9" text-anchor="middle">250</text>
</g>
<g fill="#fff"><rect x="26.80" y="71.75" width="2.15" height="1.8"/><rect x="31.05" y="71.75" width="1.9" height="1.8"/><rect x="26.80" y="39.75" width="2.15" height="1.8"/><rect x="31.05" y="39.75" width="1.9" height="1.8"/><rect x="26.80" y="8.75" width="2.15" height="1.8"/><rect x="31.05" y="8.75" width="1.9" height="1.8"/><rect x="146.74" y="221.65" width="2.15" height="1.8"/><rect x="150.99" y="221.65" width="1.9" height="1.8"/></g>
<g font-family="Liberation Sans" font-size="15.4" fill="#000" stroke="#000" stroke-width="0.3">
<text x="166" y="246.2">T (MeV)</text>
<text transform="translate(12,160) rotate(-90)">mass (MeV)</text>
</g>
<g font-family="Liberation Sans" font-size="11" fill="#000" stroke="#000" stroke-width="0.15">
<text x="259.6" y="24.8" textLength="28.5" lengthAdjust="spacingAndGlyphs">solid:</text>
<text x="291.8" y="24.8" textLength="16.8" lengthAdjust="spacingAndGlyphs">2M</text>
<text x="259.6" y="39.4" textLength="37.8" lengthAdjust="spacingAndGlyphs">dotted:</text>
<text x="300.7" y="39.4" textLength="9.2" lengthAdjust="spacingAndGlyphs">m</text>
<text x="310.9" y="43.8" font-size="6.3" font-style="italic" stroke-width="0" fill="#222">&#961;</text>
<text x="314.5" y="40.2" font-size="5.6" stroke-width="0" fill="#666">0</text>
<text x="259.6" y="58.8" textLength="44.2" lengthAdjust="spacingAndGlyphs">dashed:</text>
<text x="307.2" y="58.8" textLength="9.2" lengthAdjust="spacingAndGlyphs">m</text>
<text x="316.7" y="62.6" font-size="6.3" font-style="italic" stroke-width="0" fill="#222">&#961;</text>
<text x="320.2" y="59.8" font-size="5.6" stroke-width="0" fill="#666">1</text>
</g>
</svg>
</body></html>
